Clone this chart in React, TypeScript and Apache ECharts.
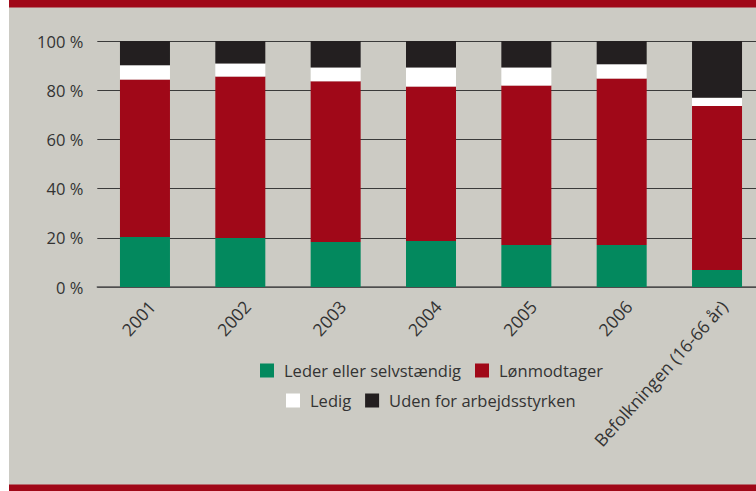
import React, { useEffect, useRef } from "react";
import * as echarts from "echarts";

const categories = ["2001", "2002", "2003", "2004", "2005", "2006", "Befolkningen (16-66 år)"];
const leder = [20.3, 19.9, 18.3, 18.7, 17.1, 17.1, 6.9];
const lonmodtager = [64.1, 65.7, 65.3, 62.8, 64.8, 67.7, 66.7];
const ledig = [5.7, 5.3, 5.6, 7.7, 7.3, 5.7, 3.3];
const uden = [9.9, 9.1, 10.8, 10.8, 10.8, 9.8, 23.1];
const seriesNames = ["Leder eller selvstændig", "Lønmodtager", "Ledig", "Uden for arbejdsstyrken"];

const FONT = "'Open Sans', 'Noto Sans', sans-serif";

export default function App() {
  const ref = useRef<HTMLDivElement>(null);
  useEffect(() => {
    if (!ref.current) return;
    const chart = echarts.init(ref.current, null, { renderer: "svg" });
    const colors = ["#03895E", "#A00818", "#FFFFFF", "#231F20"];
    const values = [leder, lonmodtager, ledig, uden];
    const legendText = { fontSize: 16.5, color: "#333", fontFamily: FONT, padding: [0, 0, 0, 5] };
    chart.setOption({
      animation: false,
      backgroundColor: "#CCCBC4",
      textStyle: { fontFamily: FONT },
      graphic: [
        { type: "rect", left: 0, top: 0, shape: { width: 770, height: 7.5 }, style: { fill: "#A00818" } },
        { type: "rect", left: 0, top: 484.5, shape: { width: 770, height: 7 }, style: { fill: "#A00818" } },
      ],
      grid: { left: 88.3, right: 14.3, top: 41, bottom: 204 },
      legend: [
        {
          data: seriesNames.slice(0, 2),
          left: 251,
          top: 362,
          padding: 0,
          itemWidth: 14,
          itemHeight: 14,
          itemGap: 14,
          icon: "rect",
          textStyle: legendText,
        },
        {
          data: seriesNames.slice(2, 4),
          left: 277,
          top: 392,
          padding: 0,
          itemWidth: 14,
          itemHeight: 14,
          itemGap: 14,
          icon: "rect",
          textStyle: legendText,
        },
      ],
      xAxis: {
        type: "category",
        data: categories,
        axisLine: { show: true, lineStyle: { color: "#555", width: 1.5 } },
        axisTick: { show: false },
        axisLabel: {
          interval: 0,
          rotate: 48,
          fontSize: 17.5,
          color: "#333",
          margin: 10,
          verticalAlign: "top",
          fontFamily: FONT,
        },
      },
      yAxis: {
        type: "value",
        min: 0,
        max: 100,
        interval: 20,
        axisLine: { show: false },
        axisTick: { show: false },
        splitLine: { show: true, lineStyle: { color: "#3a3a3a", width: 1.2 } },
        axisLabel: { formatter: "{value} %", fontSize: 16.5, color: "#333", margin: 14, fontFamily: FONT },
      },
      series: seriesNames.map((name, i) => ({
        name,
        type: "bar",
        stack: "total",
        barWidth: 50,
        data: values[i],
        itemStyle: { color: colors[i] },
      })),
    });
    return () => chart.dispose();
  }, []);
  return (
    <div style={{ position: "fixed", left: 0, top: 0, width: 756, height: 491, overflow: "hidden", background: "#fff" }}>
      <div ref={ref} style={{ position: "absolute", left: 9, top: 0, width: 770, height: 491 }} />
    </div>
  );
}
